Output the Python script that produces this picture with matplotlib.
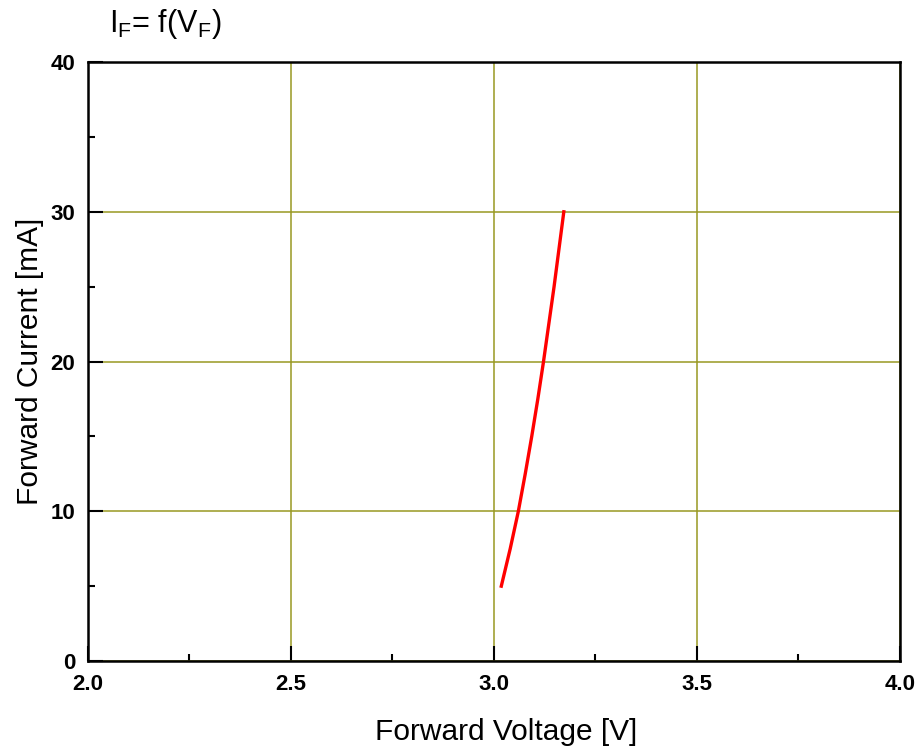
import matplotlib
matplotlib.use("Agg")
import matplotlib.pyplot as plt
from matplotlib.ticker import MultipleLocator

# forward current [mA] vs forward voltage [V]
current_ma = [5, 7.5, 10, 12.5, 15, 17.5, 20, 22.5, 25, 27.5, 30]
voltage_v = [3.018, 3.040, 3.060, 3.077, 3.093, 3.108, 3.122, 3.135, 3.148, 3.160, 3.172]

x_ticks = [2.0, 2.5, 3.0, 3.5, 4.0]
y_ticks = [0, 10, 20, 30, 40]

plt.rcParams["font.family"] = ["Liberation Sans", "DejaVu Sans"]
plt.rcParams["mathtext.fontset"] = "custom"
plt.rcParams["mathtext.rm"] = "Liberation Sans"

fig = plt.figure(figsize=(9.21, 7.51), dpi=100)
ax = fig.add_axes([0.0955, 0.1198, 0.8817, 0.7976])

ax.plot(voltage_v, current_ma, color="#ff0000", lw=2.4, zorder=3)

ax.set_xlim(2.0, 4.0)
ax.set_ylim(0, 40)
ax.set_xticks(x_ticks)
ax.set_yticks(y_ticks)
ax.set_xticklabels([f"{v:.1f}" for v in x_ticks], fontweight="bold", fontsize=16)
ax.set_yticklabels([str(v) for v in y_ticks], fontweight="bold", fontsize=16)
ax.xaxis.set_minor_locator(MultipleLocator(0.25))
ax.yaxis.set_minor_locator(MultipleLocator(5))
ax.tick_params(which="both", direction="in", width=1.5, top=False, right=False)
ax.tick_params(which="major", length=11, pad=9)
ax.tick_params(which="minor", length=5)

ax.grid(True, which="major", color="#999922", lw=1.1)
for s in ax.spines.values():
    s.set_linewidth(1.8)

ax.set_xlabel("Forward Voltage [V]", fontsize=21.5, labelpad=16)
ax.xaxis.set_label_coords(0.515, -0.095)
ax.set_ylabel("Forward Current [mA]", fontsize=21.5, labelpad=5)

fig.text(0.118, 0.968, r"I$_\mathregular{F}$= f(V$_\mathregular{F}$)",
         fontsize=22, ha="left", va="center")

fig.savefig("out.png", dpi=100)
